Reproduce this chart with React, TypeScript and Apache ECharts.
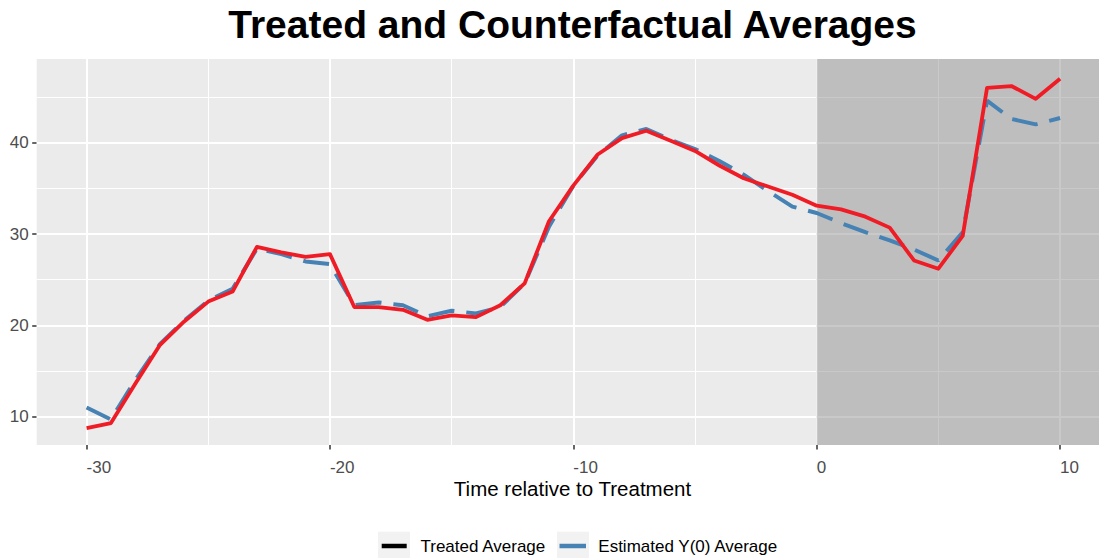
import React, { useEffect, useRef } from "react";
import * as echarts from "echarts";

const TIME = [-30, -29, -28, -27, -26, -25, -24, -23, -22, -21, -20, -19, -18, -17, -16, -15, -14, -13, -12, -11, -10, -9, -8, -7, -6, -5, -4, -3, -2, -1, 0, 1, 2, 3, 4, 5, 6, 7, 8, 9, 10];
const TREATED = [8.75, 9.3, 13.6, 17.8, 20.4, 22.6, 23.7, 28.6, 28.0, 27.5, 27.8, 22.0, 22.0, 21.7, 20.6, 21.1, 20.9, 22.2, 24.6, 31.4, 35.3, 38.7, 40.5, 41.3, 40.2, 39.1, 37.5, 36.1, 35.2, 34.3, 33.1, 32.7, 31.9, 30.7, 27.1, 26.2, 29.8, 46.0, 46.2, 44.8, 47.0];
const COUNTERFACTUAL = [11.0, 9.7, 14.0, 17.9, 20.5, 22.7, 24.0, 28.4, 27.8, 27.0, 26.7, 22.2, 22.5, 22.2, 21.0, 21.6, 21.3, 22.0, 24.6, 30.8, 35.3, 38.6, 40.8, 41.5, 40.3, 39.3, 38.0, 36.5, 34.7, 33.0, 32.3, 31.2, 30.2, 29.3, 28.3, 27.1, 30.2, 44.6, 42.6, 42.0, 42.7];

const X_TICKS = [-30, -20, -10, 0, 10];
const X_MINOR = [-25, -15, -5, 5];
const Y_TICKS = [10, 20, 30, 40];
const Y_MINOR = [15, 25, 35, 45];
const TREATMENT_START = 0;

const X_MIN = -32.05;
const X_MAX = 11.6;
const Y_MIN = 6.9;
const Y_MAX = 49.16;

const TITLE = "Treated and Counterfactual Averages";
const X_TITLE = "Time relative to Treatment";
const LEGEND_TREATED = "Treated Average";
const LEGEND_CF = "Estimated Y(0) Average";

const FONT = '"Liberation Sans", Arial, sans-serif';

export default function App() {
  const ref = useRef<HTMLDivElement>(null);

  useEffect(() => {
    if (!ref.current) return;
    const chart = echarts.init(ref.current, undefined, { renderer: "svg" });

    const gridLines: any[] = [
      ...X_MINOR.map((v) => ({ xAxis: v, lineStyle: { color: "#ffffff", width: 1, type: "solid" } })),
      ...Y_MINOR.map((v) => ({ yAxis: v, lineStyle: { color: "#ffffff", width: 1, type: "solid" } })),
      ...X_TICKS.map((v) => ({ xAxis: v, lineStyle: { color: "#ffffff", width: 2, type: "solid" } })),
      ...Y_TICKS.map((v) => ({ yAxis: v, lineStyle: { color: "#ffffff", width: 2, type: "solid" } })),
    ];

    const option: any = {
      animation: false,
      backgroundColor: "#ffffff",
      grid: {
        show: true,
        backgroundColor: "#EBEBEB",
        borderWidth: 0,
        left: 36.7,
        top: 59,
        right: 0,
        bottom: 113,
        containLabel: false,
      },
      xAxis: {
        type: "value",
        min: X_MIN,
        max: X_MAX,
        axisLine: { show: false, onZero: false },
        splitLine: { show: false },
        axisTick: {
          show: true,
          customValues: X_TICKS,
          length: 4.5,
          lineStyle: { color: "#333333", width: 1.5 },
        },
        axisLabel: {
          show: true,
          customValues: X_TICKS,
          color: "#4D4D4D",
          fontSize: 17,
          fontFamily: FONT,
          align: "left",
          margin: 14,
        },
      },
      yAxis: {
        type: "value",
        min: Y_MIN,
        max: Y_MAX,
        axisLine: { show: false, onZero: false },
        splitLine: { show: false },
        axisTick: {
          show: true,
          customValues: Y_TICKS,
          length: 4.5,
          lineStyle: { color: "#333333", width: 1.5 },
        },
        axisLabel: {
          show: true,
          customValues: Y_TICKS,
          color: "#4D4D4D",
          fontSize: 17,
          fontFamily: FONT,
          margin: 8,
        },
      },
      series: [
        {
          type: "line",
          data: [],
          z: 1,
          silent: true,
          markLine: {
            z: 1,
            silent: true,
            symbol: ["none", "none"],
            label: { show: false },
            emphasis: { disabled: true },
            data: gridLines,
          },
        },
        {
          type: "line",
          data: [],
          z: 2,
          silent: true,
          markArea: {
            z: 2,
            silent: true,
            itemStyle: { color: "rgba(135,135,135,0.45)" },
            emphasis: { disabled: true },
            data: [[{ xAxis: TREATMENT_START }, { xAxis: X_MAX }]],
          },
        },
        {
          name: LEGEND_CF,
          type: "line",
          z: 3,
          data: TIME.map((t, i) => [t, COUNTERFACTUAL[i]]),
          showSymbol: false,
          symbol: "none",
          lineStyle: { color: "#4682B4", width: 4, type: [26, 12] },
          emphasis: { disabled: true },
        },
        {
          name: LEGEND_TREATED,
          type: "line",
          z: 4,
          data: TIME.map((t, i) => [t, TREATED[i]]),
          showSymbol: false,
          symbol: "none",
          lineStyle: { color: "#EF1C25", width: 3.8, join: "round" },
          emphasis: { disabled: true },
        },
      ],
      graphic: [
        {
          type: "text",
          x: 572.5,
          y: 24,
          style: {
            text: TITLE,
            fontSize: 39,
            fontWeight: "bold",
            fontFamily: FONT,
            fill: "#000000",
            align: "center",
            verticalAlign: "middle",
          },
        },
        {
          type: "text",
          x: 572.5,
          y: 488.5,
          style: {
            text: X_TITLE,
            fontSize: 20.5,
            fontFamily: FONT,
            fill: "#000000",
            align: "center",
            verticalAlign: "middle",
          },
        },
        {
          type: "rect",
          shape: { x: 378, y: 531.7, width: 32, height: 27 },
          style: { fill: "#F2F2F2" },
        },
        {
          type: "line",
          shape: { x1: 381.7, y1: 546, x2: 406.7, y2: 546 },
          style: { stroke: "#000000", lineWidth: 4.5 },
        },
        {
          type: "text",
          x: 420.5,
          y: 546,
          style: {
            text: LEGEND_TREATED,
            fontSize: 17,
            fontFamily: FONT,
            fill: "#000000",
            align: "left",
            verticalAlign: "middle",
          },
        },
        {
          type: "rect",
          shape: { x: 557, y: 531.7, width: 32, height: 27 },
          style: { fill: "#F2F2F2" },
        },
        {
          type: "line",
          shape: { x1: 559.5, y1: 546, x2: 586, y2: 546 },
          style: { stroke: "#4682B4", lineWidth: 4.5 },
        },
        {
          type: "text",
          x: 598.3,
          y: 546,
          style: {
            text: LEGEND_CF,
            fontSize: 17,
            fontFamily: FONT,
            fill: "#000000",
            align: "left",
            verticalAlign: "middle",
          },
        },
      ],
    };

    chart.setOption(option);
    return () => {
      chart.dispose();
    };
  }, []);

  return (
    <div
      ref={ref}
      style={{ position: "fixed", left: 0, top: 0, width: 1099, height: 558, background: "#ffffff" }}
    />
  );
}
